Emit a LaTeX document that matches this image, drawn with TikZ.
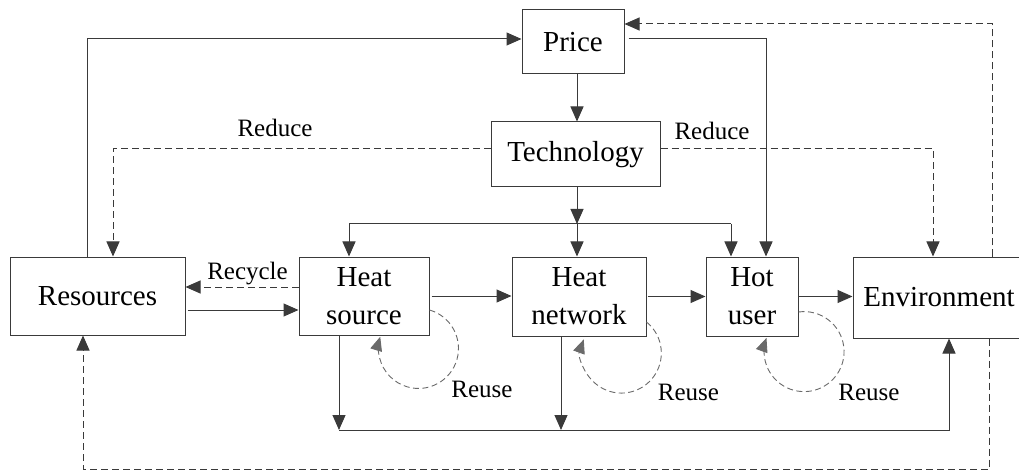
\documentclass[tikz,border=0pt]{standalone}
\usepackage{fontspec}
\setmainfont{Liberation Serif}
\usetikzlibrary{arrows.meta,calc}
\definecolor{ln}{HTML}{3A3A3A}
\definecolor{lg}{HTML}{6A6A6A}
\begin{document}
\begin{tikzpicture}[x=1pt,y=-1pt,
  box/.style={draw=ln,line width=1pt,rectangle,align=center,inner sep=0pt,
    font=\fontsize{29}{38}\selectfont},
  lbl/.style={inner sep=0pt,anchor=base,font=\fontsize{25}{30}\selectfont},
  arr/.style={draw=ln,line width=1pt,-{Triangle[length=15pt,width=13pt]}},
  plain/.style={draw=ln,line width=1pt},
  darr/.style={arr,dash pattern=on 7pt off 4pt},
  reuse/.style={draw=lg,line width=0.9pt,dash pattern=on 6pt off 3.5pt,-{Triangle[length=14pt,width=12pt]}}]
\useasboundingbox (0,0) rectangle (1019,470);
% nodes
\node[box,minimum width=102pt,minimum height=64pt] (price) at (573,42) {Price};
\node[box,minimum width=169pt,minimum height=65pt] (tech) at (575.5,154.5) {Technology};
\node[box,minimum width=175pt,minimum height=78pt] (res) at (97.5,296) {Resources};
\node[box,minimum width=130pt,minimum height=78pt] (hs) at (364,296) {Heat\\source};
\node[box,minimum width=134pt,minimum height=79pt] (hn) at (579,296.5) {Heat\\network};
\node[box,minimum width=92pt,minimum height=79pt] (hu) at (752,296.5) {Hot\\user};
\node[box,minimum width=172pt,minimum height=81pt] (env) at (939,297.5) {Environment};
% labels
\node[lbl] (l1) at (275,137) {Reduce};
\node[lbl] (l2) at (712,140) {Reduce};
\node[lbl] (l3) at (247.5,279) {Recycle};
\node[lbl] (l4) at (482,397) {Reuse};
\node[lbl] (l5) at (688.5,400) {Reuse};
\node[lbl] (l6) at (869,400) {Reuse};
% coordinates
\coordinate (busL) at (349,224);
\coordinate (busR) at (731,224);
\coordinate (bl) at (339,430);
\coordinate (yb) at (0,469);
% top part
\draw[arr] (price.south -| 577,0) -- (tech.north -| 577,0);
\draw[plain] (busL) -- (busR);
\draw[arr] (tech.south -| 577,0) -- (busL -| 577,0);
\draw[arr] (busL) -- (busL |- hs.north);
\draw[arr] (busL -| 577,0) -- (hn.north -| 577,0);
\draw[arr] (busR) -- (busR |- hu.north);
\draw[arr] ([shift={(4pt,3pt)}]price.east) -| ([xshift=14pt]hu.north);
\draw[arr] ([xshift=-10.5pt]res.north) |- ([yshift=3pt]price.west);
\draw[darr] ([yshift=5.5pt]tech.west) -| ([xshift=15.5pt]res.north);
\draw[darr] ([yshift=5.5pt]tech.east) -| ([xshift=-6pt]env.north);
\draw[darr] ([xshift=53pt]env.north) |- ([yshift=18pt]price.east);
% row connections
\draw[darr] ([yshift=9pt]hs.west) -- ([yshift=9pt]res.east);
\draw[arr] ([shift={(2pt,-14pt)}]res.east) -- ([yshift=-14pt]hs.west);
\draw[arr] ([xshift=2pt]hs.east) -- (hn.west |- hs.east);
\draw[arr] ([xshift=1pt]hn.east) -- (hu.west |- hn.east);
\draw[arr] (hu.east) -- (env.west |- hu.east);
% bottom
\draw[arr] ([xshift=-25pt]hs.south) -- ([xshift=-25pt]hs.south |- bl);
\draw[arr] ([xshift=-18pt]hn.south) -- ([xshift=-18pt]hn.south |- bl);
\draw[arr] (bl) -| ([xshift=10pt]env.south);
\draw[darr] ([xshift=50pt]env.south) |- (yb -| res.south) -- ([xshift=-14.5pt]res.south |- yb) -- ([xshift=-14.5pt]res.south);
% reuse loops
\draw[reuse] ([yshift=-14pt]hs.east) arc[start angle=74,end angle=-197,radius=40pt];
\draw[reuse] ([yshift=-25.5pt]hn.east) arc[start angle=51,end angle=-200,radius=40pt];
\draw[reuse] ([yshift=-15.5pt]hu.east) arc[start angle=98,end angle=-200,radius=40pt];
\end{tikzpicture}
\end{document}
